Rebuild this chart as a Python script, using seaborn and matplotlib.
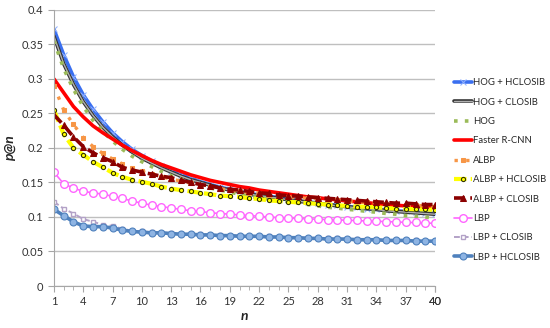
import numpy as np
import pandas as pd
import seaborn as sns
import matplotlib.pyplot as plt
import matplotlib.patheffects as pe
from matplotlib.ticker import MultipleLocator, FuncFormatter


n = list(range(1, 41))

hog_hclosib = [.372, .335, .303, .277, .256, .238, .222, .209, .198, .189,
               .181, .174, .167, .161, .156, .151, .147, .143, .140, .137,
               .134, .132, .130, .128, .126, .124, .122, .120, .118, .117,
               .115, .114, .112, .111, .110, .109, .108, .107, .106, .105]
hog_closib = [.362, .322, .292, .267, .247, .230, .216, .204, .194, .185,
              .178, .171, .165, .159, .154, .150, .146, .142, .139, .136,
              .133, .131, .129, .127, .125, .123, .121, .119, .118, .116,
              .115, .113, .112, .111, .109, .108, .107, .106, .105, .104]
hog = [.355, .315, .285, .260, .240, .224, .210, .198, .188, .180,
       .173, .166, .160, .155, .150, .146, .142, .139, .136, .133,
       .130, .128, .126, .124, .122, .120, .118, .116, .114, .113,
       .111, .110, .108, .107, .105, .104, .102, .101, .100, .098]
faster_rcnn = [.300, .280, .260, .245, .232, .222, .213, .204, .196, .189,
               .182, .176, .171, .166, .161, .157, .153, .150, .147, .144,
               .142, .139, .137, .135, .133, .131, .129, .128, .126, .125,
               .123, .122, .121, .119, .118, .117, .116, .115, .114, .113]
albp = [.290, .255, .234, .215, .202, .192, .184, .177, .171, .166,
        .162, .158, .155, .152, .149, .146, .144, .141, .139, .137,
        .135, .134, .132, .131, .129, .128, .127, .126, .125, .124,
        .123, .122, .121, .120, .119, .118, .117, .117, .116, .115]
albp_hclosib = [.255, .220, .200, .190, .180, .172, .164, .158, .154, .151,
                .148, .144, .141, .139, .137, .135, .133, .131, .130, .129,
                .127, .126, .124, .123, .122, .121, .120, .119, .118, .117,
                .116, .115, .115, .114, .113, .112, .112, .111, .111, .110]
albp_closib = [.248, .233, .216, .202, .193, .186, .180, .172, .168, .165,
               .162, .159, .157, .153, .150, .147, .145, .142, .140, .139,
               .137, .135, .134, .132, .131, .130, .129, .128, .127, .126,
               .125, .124, .123, .122, .121, .120, .120, .119, .118, .118]
lbp = [.165, .148, .142, .137, .135, .133, .130, .127, .123, .120,
       .117, .115, .113, .111, .109, .108, .106, .105, .104, .103,
       .102, .101, .100, .099, .098, .098, .097, .097, .096, .096,
       .095, .095, .094, .094, .093, .093, .092, .092, .091, .091]
lbp_closib = [.122, .112, .105, .097, .093, .089, .087, .083, .080, .079,
              .078, .077, .077, .076, .076, .075, .074, .074, .073, .073,
              .072, .072, .072, .071, .071, .070, .070, .069, .069, .069,
              .068, .068, .067, .067, .067, .066, .066, .066, .065, .065]
lbp_hclosib = [.111, .102, .093, .087, .086, .086, .084, .081, .079, .078,
               .077, .077, .076, .075, .075, .074, .074, .073, .073, .072,
               .072, .072, .071, .071, .070, .070, .069, .069, .068, .068,
               .068, .067, .067, .067, .066, .066, .066, .065, .065, .065]

series = [
    ("HOG + HCLOSIB", hog_hclosib),
    ("HOG + CLOSIB", hog_closib),
    ("HOG", hog),
    ("Faster R-CNN", faster_rcnn),
    ("ALBP", albp),
    ("ALBP + HCLOSIB", albp_hclosib),
    ("ALBP + CLOSIB", albp_closib),
    ("LBP", lbp),
    ("LBP + CLOSIB", lbp_closib),
    ("LBP + HCLOSIB", lbp_hclosib),
]

styles = {
    "HOG + HCLOSIB": dict(color="#3A6FF0", lw=2.6, marker="x", ms=4, mec="#8FB0FF"),
    "HOG + CLOSIB": dict(color="#B0B0B0", lw=1.0,
                         path_effects=[pe.Stroke(linewidth=2.6, foreground="#333333"), pe.Normal()]),
    "HOG": dict(color="#9BBB59", lw=2.6, ls=(0, (1, 2))),
    "Faster R-CNN": dict(color="#FF0000", lw=2.6),
    "ALBP": dict(color="#F79646", lw=2.4, ls=(0, (1, 2.5)), marker="s", ms=3.5, mec="#F79646"),
    "ALBP + HCLOSIB": dict(color="#FFFF00", lw=3.0, ls=(0, (3, 1)), marker="o", ms=3,
                           mfc="#FFFF00", mec="#333300", mew=0.8),
    "ALBP + CLOSIB": dict(color="#8B0000", lw=2.6, ls=(0, (3, 1.5)), marker="^", ms=5, mec="#8B0000"),
    "LBP": dict(color="#FF66FF", lw=1.2, marker="o", ms=5.5, mfc="white", mec="#FF66FF", mew=1.0),
    "LBP + CLOSIB": dict(color="#B3A2C7", lw=1.4, ls=(0, (3, 1.5)), marker="s", ms=3.5,
                         mfc="white", mec="#B3A2C7", mew=1.0),
    "LBP + HCLOSIB": dict(color="#4F81BD", lw=2.6, marker="o", ms=5, mfc="#8EB4E3", mec="#4F81BD", mew=0.8),
}

sns.set_style("white")
plt.rcParams["font.family"] = ["Lato", "DejaVu Sans"]

fig, ax = plt.subplots(figsize=(5.5, 3.28), dpi=100)
fig.subplots_adjust(left=0.098, right=0.791, top=0.97, bottom=0.128)

for name, vals in series:
    df = pd.DataFrame({"n": n, "p": vals})
    sns.lineplot(data=df, x="n", y="p", ax=ax, label=name, **styles[name])

ax.set_xlim(1, 40)
ax.set_ylim(0, 0.4)
ax.yaxis.set_major_locator(MultipleLocator(0.05))
ax.yaxis.set_major_formatter(FuncFormatter(lambda v, p: "0" if v == 0 else f"{v:g}"))
ax.set_xticks(list(range(1, 41, 3)) + [40])
ax.xaxis.set_minor_locator(MultipleLocator(1))
ax.grid(axis="y", color="#BFBFBF", lw=1.0)
ax.set_axisbelow(True)
for side in ["top", "right"]:
    ax.spines[side].set_visible(False)
for side in ["left", "bottom"]:
    ax.spines[side].set_color("#A6A6A6")
ax.tick_params(axis="both", labelsize=8, colors="#A6A6A6", labelcolor="#333333")
ax.tick_params(axis="x", which="major", direction="out", length=4, bottom=True)
ax.tick_params(axis="x", which="minor", direction="out", length=3, bottom=True, color="#A6A6A6")
ax.tick_params(axis="y", direction="out", length=4, left=True)

ax.set_xlabel("n", fontsize=10, fontweight="bold", fontstyle="italic", labelpad=2)
ax.set_ylabel("p@n", fontsize=10, fontweight="bold", fontstyle="italic", labelpad=4)

ax.legend(loc="center left", bbox_to_anchor=(1.04, 0.42), frameon=False, fontsize=6.8,
          handlelength=1.9, handletextpad=0.15, labelspacing=1.1, borderaxespad=0)

fig.savefig("out.png", dpi=100)
